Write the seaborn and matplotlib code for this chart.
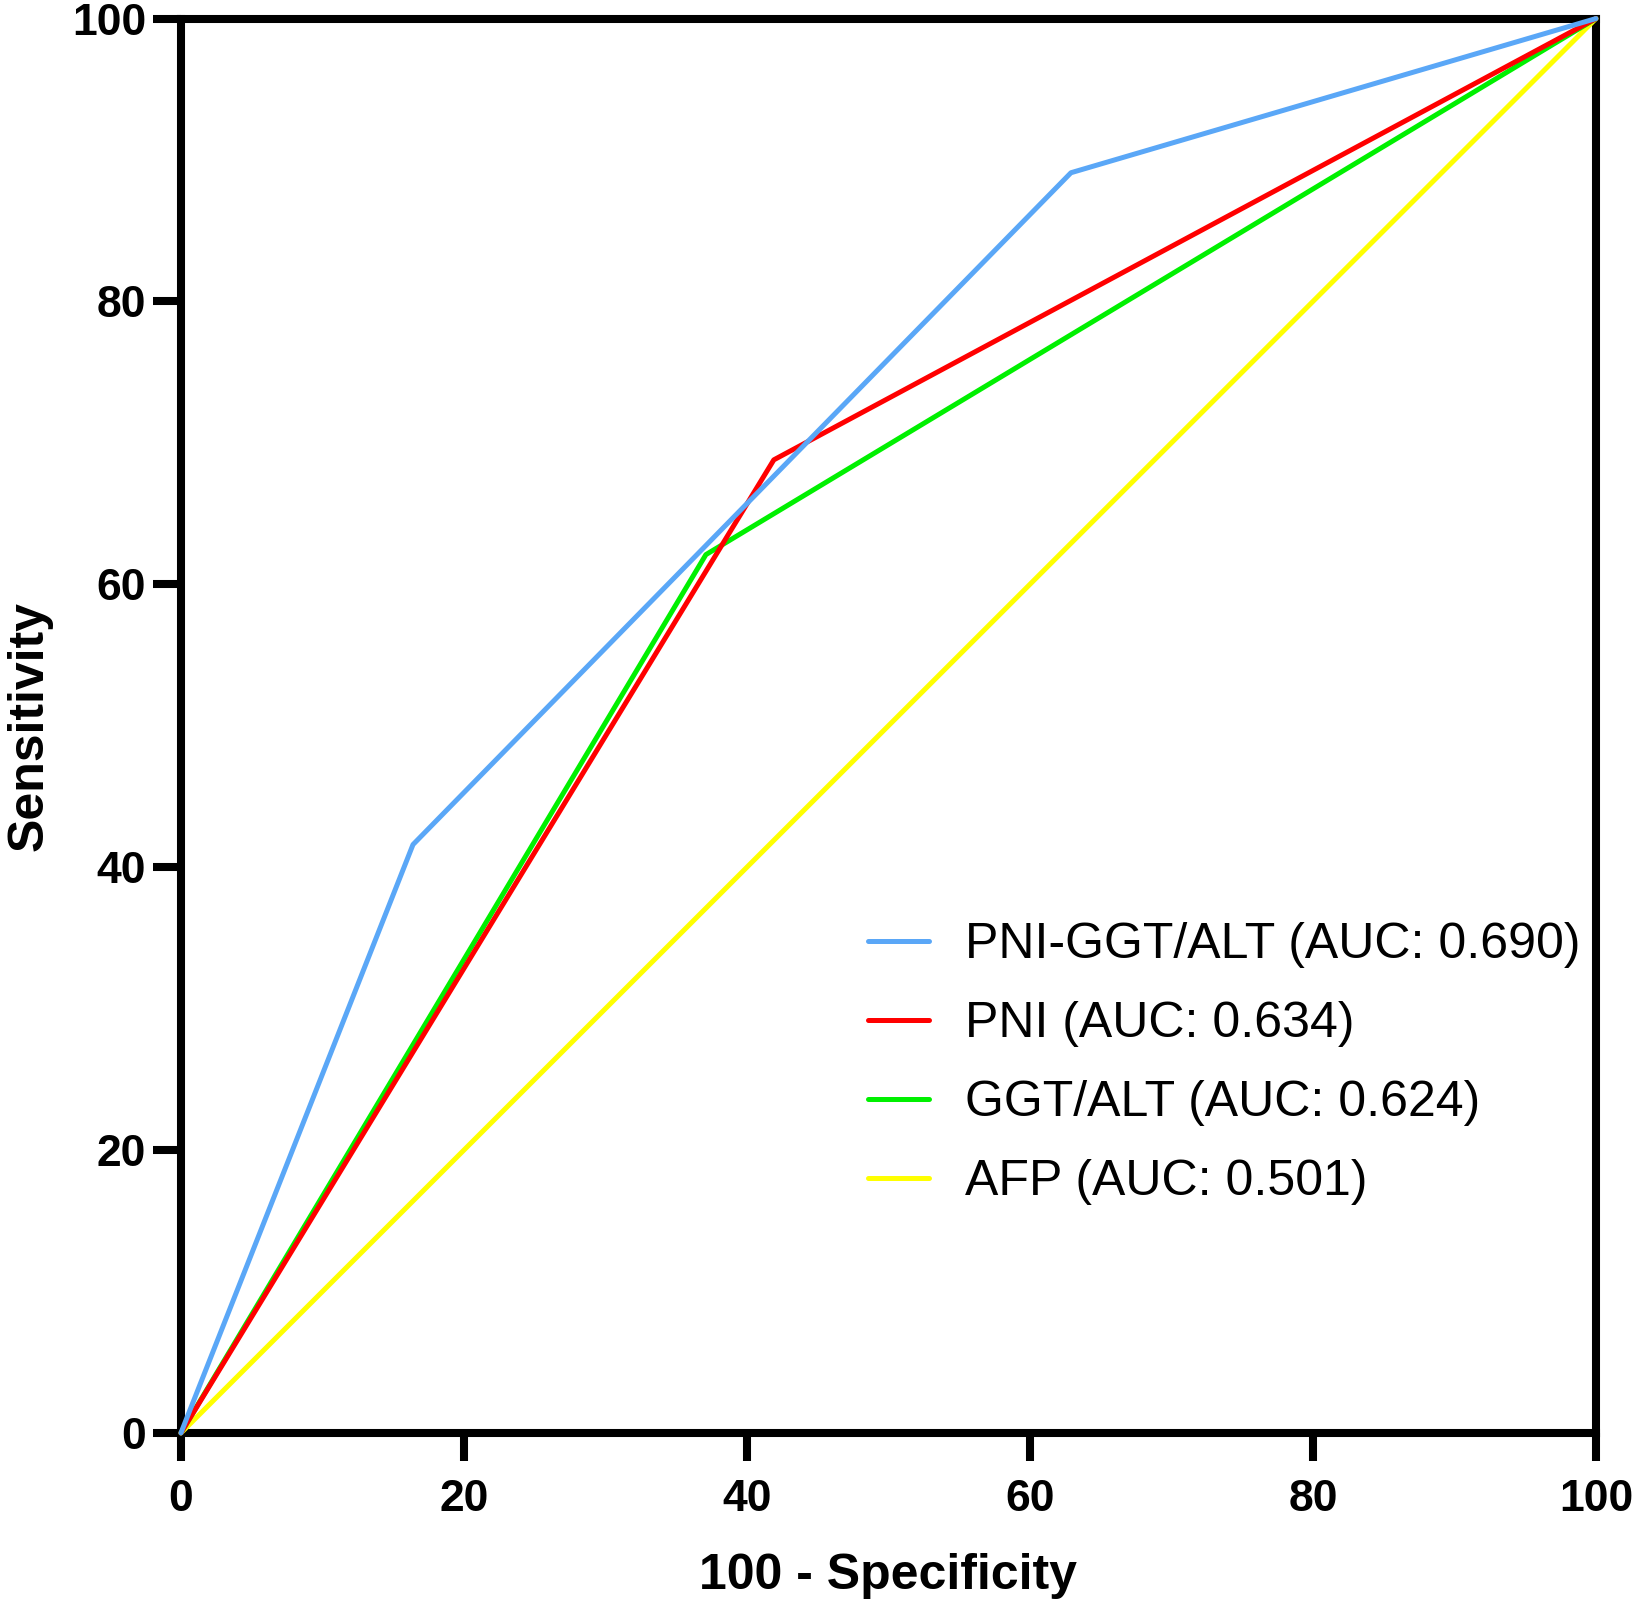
import matplotlib
matplotlib.use("Agg")
import matplotlib.pyplot as plt
import seaborn as sns
import pandas as pd

# ROC points (100 - specificity, sensitivity)
blue_x = [0, 16.4, 62.9, 100]
blue_y = [0, 41.6, 89.1, 100]
red_x = [0, 41.9, 100]
red_y = [0, 68.8, 100]
green_x = [0, 37.1, 100]
green_y = [0, 62.1, 100]
yellow_x = [0, 100]
yellow_y = [0, 100]
ref_x = [0, 100]
ref_y = [0, 100]

labels = ["PNI-GGT/ALT (AUC: 0.690)", "PNI (AUC: 0.634)",
          "GGT/ALT (AUC: 0.624)", "AFP (AUC: 0.501)"]
colors = ["#5AA7F7", "#FF0000", "#00F000", "#FFFF00"]
xticks = [0, 20, 40, 60, 80, 100]
yticks = [0, 20, 40, 60, 80, 100]

sns.set_style("ticks")
plt.rcParams["font.family"] = ["Liberation Sans", "DejaVu Sans"]
plt.rcParams.update({"text.color": "black", "axes.labelcolor": "black",
                     "xtick.color": "black", "ytick.color": "black"})

frames = []
for lab, xs, ys in zip(labels, [blue_x, red_x, green_x, yellow_x],
                       [blue_y, red_y, green_y, yellow_y]):
    frames.append(pd.DataFrame({"x": xs, "y": ys, "curve": lab}))
df = pd.concat(frames, ignore_index=True)

fig = plt.figure(figsize=(16.33, 16), dpi=100)
ax = fig.add_axes([0.1108, 0.1044, 0.8665, 0.884])

# diagonal reference
ax.plot(ref_x, ref_y, color="black", lw=1.0, zorder=1)

sns.lineplot(data=df, x="x", y="y", hue="curve", palette=colors,
             hue_order=labels, sort=False, estimator=None, lw=3.6, ax=ax)
# stacking: blue on top, yellow at bottom
for i, line in enumerate(ax.get_lines()[1:5]):
    line.set_zorder(6 - i)
    line.set_clip_on(False)

ax.set_xlim(0, 100)
ax.set_ylim(0, 100)
ax.set_xticks(xticks)
ax.set_yticks(yticks)
ax.tick_params(axis="both", direction="out", length=20, width=5.8,
               color="black", labelsize=32, bottom=True, left=True,
               top=False, right=False)
ax.tick_params(axis="x", pad=13)
ax.tick_params(axis="y", pad=5)
for t in ax.get_xticklabels() + ax.get_yticklabels():
    t.set_fontweight("bold")
for sp in ax.spines.values():
    sp.set_linewidth(5.8)
    sp.set_color("black")
    sp.set_visible(True)

ax.set_xlabel("100 - Specificity", fontsize=36, fontweight="bold", labelpad=24)
ax.set_ylabel("Sensitivity", fontsize=36, fontweight="bold", labelpad=14)

handles, labs = ax.get_legend_handles_labels()
ax.legend(handles, labs, frameon=False, fontsize=36, loc="upper left",
          bbox_to_anchor=(0.5315, 0.4235), bbox_transform=fig.transFigure,
          borderpad=0, borderaxespad=0, handlelength=1.22,
          handletextpad=0.72, labelspacing=0.66)

fig.savefig("out.png", dpi=100)
